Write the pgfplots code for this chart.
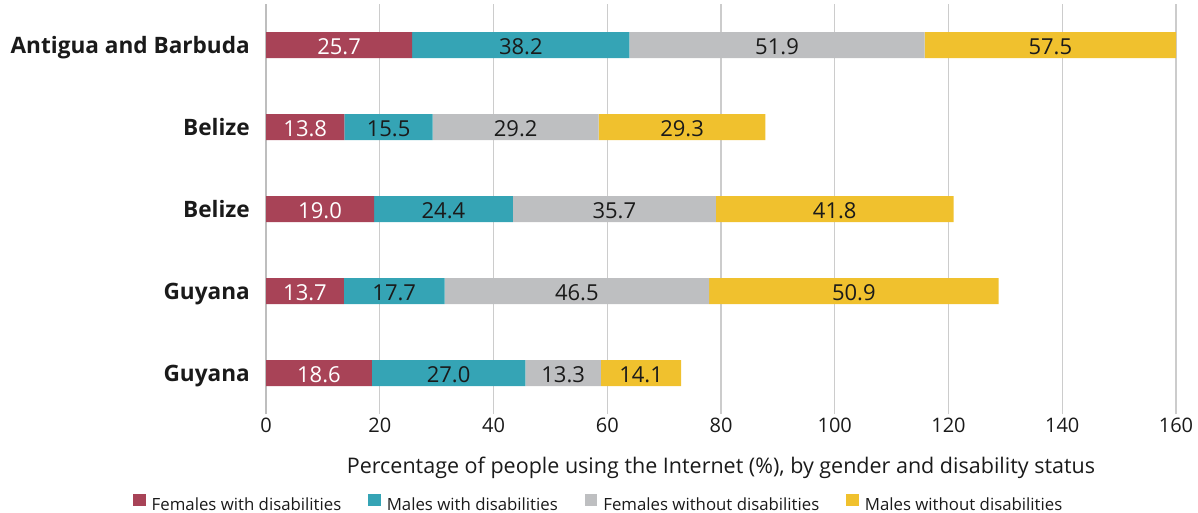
\documentclass[border=0pt]{standalone}
\usepackage{pgfplots}
\pgfplotsset{compat=1.18}
\usepackage{pgfplotstable}
\usepackage{fontspec}
\setmainfont{Open Sans}
\definecolor{cred}{RGB}{168,67,87}
\definecolor{cteal}{RGB}{53,164,181}
\definecolor{cgray}{RGB}{190,191,193}
\definecolor{cyellow}{RGB}{240,193,46}
\definecolor{gridgray}{RGB}{204,204,204}
\definecolor{axisgray}{RGB}{190,190,190}
\definecolor{txt}{RGB}{26,26,26}
\newcommand\fsz[1]{\fontsize{#1}{#1}\selectfont}

% r = row (5 = top), v = value
\pgfplotstableread{
r v
5 25.7
4 13.8
3 19.0
2 13.7
1 18.6
}\tRed
\pgfplotstableread{
r v
5 38.2
4 15.5
3 24.4
2 17.7
1 27.0
}\tTeal
\pgfplotstableread{
r v
5 51.9
4 29.2
3 35.7
2 46.5
1 13.3
}\tGray
\pgfplotstableread{
r v
5 57.5
4 29.3
3 41.8
2 50.9
1 14.1
}\tYellow

\pgfplotsset{
  frame/.style={
    at={(266pt,98pt)}, anchor=south west,
    scale only axis, width=910pt, height=410pt,
    xmin=0, xmax=160, ymin=0.5, ymax=5.5,
  },
  barlabel/.style={draw=none, mark=none, nodes near coords, point meta=explicit symbolic,
    nodes near coords style={anchor=base, font=\fsz{22}, text=#1, inner sep=0pt, yshift=-9pt}},
}

\begin{document}
\begin{tikzpicture}
\useasboundingbox (0,0) rectangle (1198pt,512pt);
\begin{axis}[
  frame,
  xbar stacked, bar width=26pt,
  xtick={0,20,...,160},
  ytick={1,2,3,4,5},
  yticklabels={Guyana, Guyana, Belize, Belize, Antigua and Barbuda},
  xmajorgrids, ymajorgrids=false,
  grid style={draw=gridgray, line width=1.2pt},
  major tick length=0pt,
  axis x line*=bottom, axis y line*=left,
  x axis line style={draw=none},
  y axis line style={draw=axisgray, line width=2.5pt},
  /pgf/number format/assume math mode=true,
  xticklabel style={font=\fsz{20}, text=txt, anchor=base, yshift=-18pt},
  yticklabel style={font=\bfseries\fsz{22.6}, text=txt, anchor=base east, inner sep=0pt, xshift=-16pt, yshift=-8.5pt},
  xlabel={Percentage of people using the Internet (\%), by gender and disability status},
  xlabel style={font=\fsz{21.5}, text=txt, at={(axis description cs:0.5,-0.1439)}, anchor=base, inner sep=0pt},
  legend columns=4,
  legend style={at={(-0.14615,-0.217)}, anchor=west, draw=none, fill=none, inner sep=0pt,
    font=\fsz{16.8}, text=txt,
    nodes={inner sep=0pt},
    /tikz/every odd column/.append style={column sep=6pt},
    /tikz/every even column/.append style={column sep=27pt}},
  legend image code/.code={\fill[#1] (0pt,-1pt) rectangle (12.5pt,11.5pt);},
]
\addplot[fill=cred, draw=none] table[x=v, y=r] {\tRed};
\addplot[fill=cteal, draw=none] table[x=v, y=r] {\tTeal};
\addplot[fill=cgray, draw=none] table[x=v, y=r] {\tGray};
\addplot[fill=cyellow, draw=none] table[x=v, y=r] {\tYellow};
\legend{Females with disabilities, Males with disabilities, Females without disabilities, Males without disabilities}
\end{axis}
% value labels, centred on the visible part of each segment
\begin{axis}[frame, hide axis]
\addplot[barlabel=white] coordinates {
  (12.85,5) [25.7] (6.9,4) [13.8] (9.5,3) [19.0] (6.85,2) [13.7] (9.3,1) [18.6]};
\addplot[barlabel=txt] coordinates {
  (44.8,5) [38.2] (21.55,4) [15.5] (31.2,3) [24.4] (22.55,2) [17.7] (32.1,1) [27.0]};
\addplot[barlabel=txt] coordinates {
  (89.85,5) [51.9] (43.9,4) [29.2] (61.25,3) [35.7] (54.65,2) [46.5] (52.25,1) [13.3]};
\addplot[barlabel=txt] coordinates {
  (137.9,5) [57.5] (73.15,4) [29.3] (100.0,3) [41.8] (103.35,2) [50.9] (65.95,1) [14.1]};
\end{axis}
\end{tikzpicture}
\end{document}
